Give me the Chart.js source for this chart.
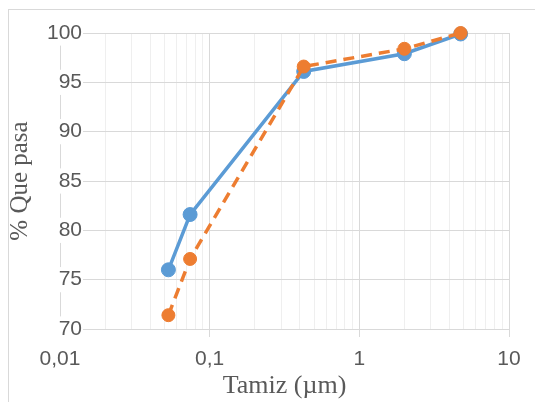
<!DOCTYPE html>
<html>
<head>
<meta charset="utf-8">
<script src="https://cdn.jsdelivr.net/npm/chart.js@4.4.1/dist/chart.umd.min.js"></script>
<style>
  html, body { margin: 0; padding: 0; background: #fff; overflow: hidden; }
  #wrap { position: relative; width: 535px; height: 402px; }
  #frame { position: absolute; left: 8px; top: 9px; width: 600px; height: 500px; border: 1px solid #d9d9d9; }
  #chart { position: absolute; left: 0; top: 0; }
</style>
</head>
<body>
<div id="wrap">
  <div id="frame"></div>
  <canvas id="chart" width="535" height="402"></canvas>
</div>
<script>
// tamiz (abertura) y % que pasa
const sieveSizes = [0.053, 0.074, 0.425, 2.0, 4.75];
const pasaA = [76.0, 81.6, 96.1, 97.9, 99.9];
const pasaB = [71.4, 77.1, 96.6, 98.4, 100.0];

const yTicks = [70, 75, 80, 85, 90, 95, 100];
const xMajorTicks = [0.01, 0.1, 1, 10];
const xTickLabels = ["0,01", "0,1", "1", "10"];

const blue = "#5b9bd5";
const orange = "#ed7d31";
const textColor = "#595959";

// lineas de la grilla logaritmica: 1..9 por decada
const xGridValues = [];
xMajorTicks.forEach((d, i) => {
  if (i === xMajorTicks.length - 1) {
    xGridValues.push(d);
    return;
  }
  for (let k = 1; k <= 9; k++) xGridValues.push(k === 1 ? d : +(d * k).toPrecision(6));
});

const toPoints = (ys) => sieveSizes.map((x, i) => ({ x: x, y: ys[i] }));

new Chart(document.getElementById("chart"), {
  type: "line",
  data: {
    datasets: [
      {
        data: toPoints(pasaA),
        borderColor: blue,
        backgroundColor: blue,
        borderWidth: 3.5,
        pointRadius: 7,
        pointBorderWidth: 1,
        pointBorderColor: blue,
        pointBackgroundColor: blue,
        tension: 0,
        clip: false,
        order: 1,
      },
      {
        data: toPoints(pasaB),
        borderColor: orange,
        backgroundColor: orange,
        borderWidth: 3.5,
        borderDash: [11, 7],
        pointRadius: 6.5,
        pointBorderWidth: 1,
        pointBorderColor: orange,
        pointBackgroundColor: orange,
        tension: 0,
        clip: false,
        order: 0,
      },
    ],
  },
  options: {
    responsive: false,
    animation: false,
    devicePixelRatio: 1,
    layout: { padding: { top: 33, right: 26, left: 0, bottom: 0 } },
    plugins: {
      legend: { display: false },
      tooltip: { enabled: false },
    },
    scales: {
      x: {
        type: "logarithmic",
        min: 0.01,
        max: 10,
        afterBuildTicks: (s) => {
          s.ticks = xGridValues.map((v) => ({ value: v, major: xMajorTicks.includes(v) }));
        },
        afterFit: (s) => {
          s.height = 73;
        },
        grid: {
          color: (ctx) => (ctx.tick && ctx.tick.major ? "#d9d9d9" : "#efefef"),
          tickColor: (ctx) => (ctx.tick && ctx.tick.major ? "#d9d9d9" : "rgba(0,0,0,0)"),
          tickLength: 8,
          lineWidth: 1,
        },
        border: { color: "#d9d9d9", width: 1 },
        ticks: {
          autoSkip: false,
          maxRotation: 0,
          padding: 10,
          color: textColor,
          font: { family: "Liberation Sans", size: 21 },
          callback: (v) => {
            const i = xMajorTicks.indexOf(v);
            return i >= 0 ? xTickLabels[i] : "";
          },
        },
        title: {
          display: true,
          text: "Tamiz (µm)",
          color: textColor,
          font: { family: "Liberation Serif", size: 26 },
          padding: { top: 0, bottom: 0 },
        },
      },
      y: {
        min: 70,
        max: 100,
        afterBuildTicks: (s) => {
          s.ticks = yTicks.map((v) => ({ value: v }));
        },
        afterFit: (s) => {
          s.width = 60;
        },
        grid: { color: "#d9d9d9", lineWidth: 1, drawTicks: false },
        border: { color: "#d9d9d9", width: 1 },
        ticks: {
          // etiquetas encima del eje, alineadas a la derecha en x~82
          mirror: true,
          crossAlign: "far",
          padding: -13,
          color: textColor,
          font: { family: "Liberation Sans", size: 21 },
          showLabelBackdrop: true,
          backdropColor: "#ffffff",
          backdropPadding: { top: 0, bottom: 0, left: 1, right: 1 },
        },
        title: {
          display: true,
          text: "% Que pasa",
          color: textColor,
          font: { family: "Liberation Serif", size: 25 },
          padding: { top: 5, bottom: 0 },
        },
      },
    },
  },
});
</script>
</body>
</html>
